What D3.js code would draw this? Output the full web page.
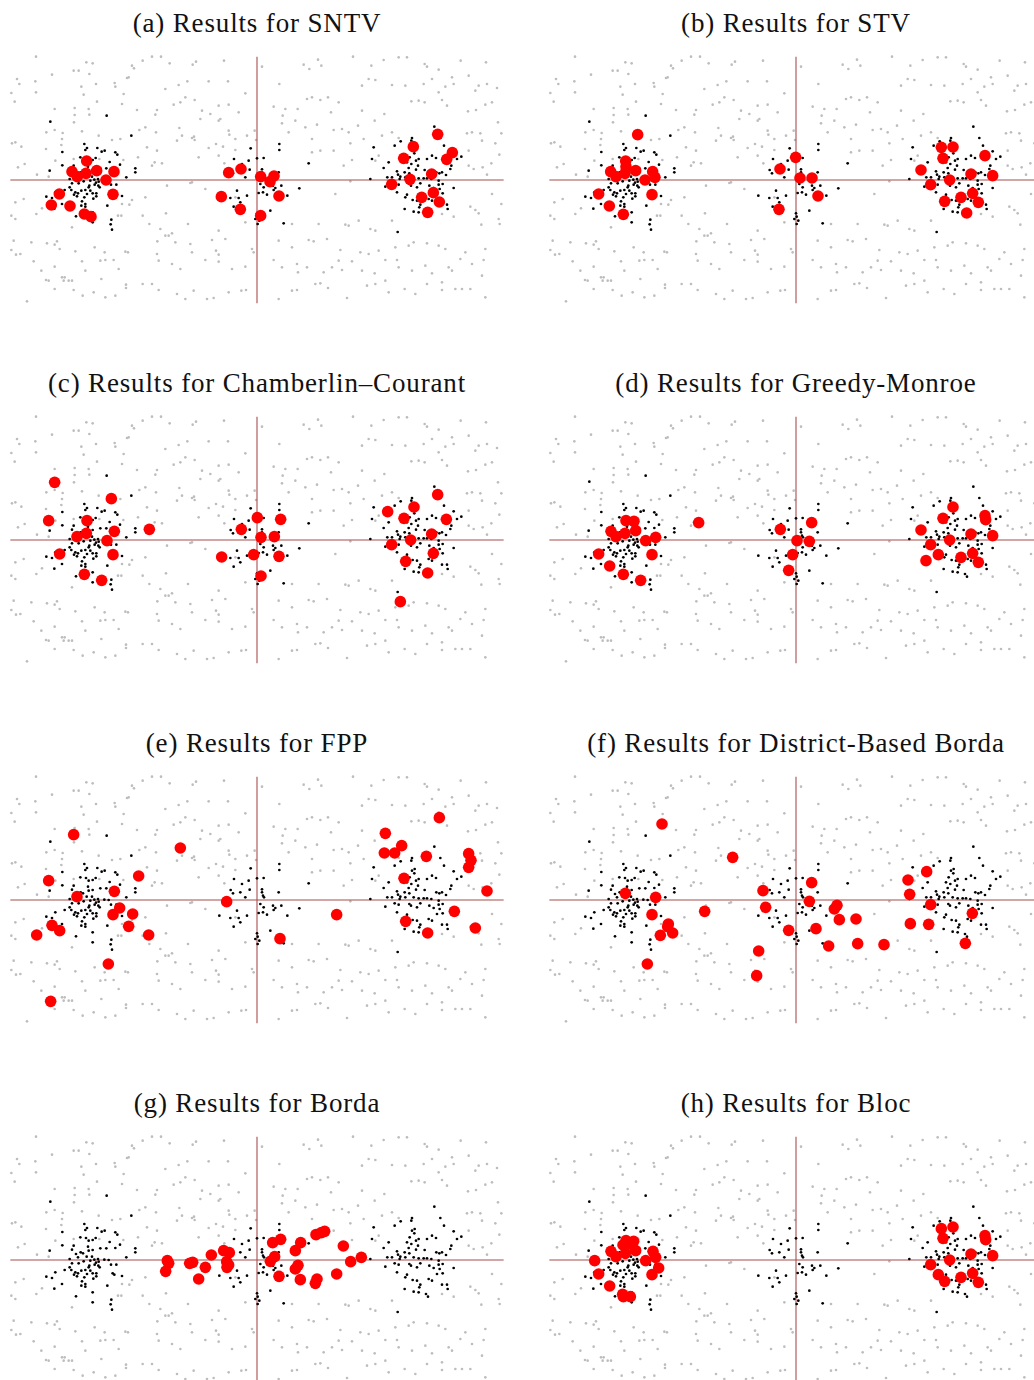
<!DOCTYPE html>
<html><head><meta charset="utf-8">
<script src="https://cdn.jsdelivr.net/npm/d3@7"></script>
<style>body{margin:0;background:#fff}svg{display:block}</style>
</head><body>
<script>
// ---------- DATA ----------
const titles = ["(a) Results for SNTV","(b) Results for STV","(c) Results for Chamberlin–Courant","(d) Results for Greedy-Monroe","(e) Results for FPP","(f) Results for District-Based Borda","(g) Results for Borda","(h) Results for Bloc"];

// candidate positions (light gray)
const candidates = [[-6.63,3.70],[-5.12,3.53],[-4.93,3.50],[-3.75,3.43],[-3.69,3.35],[-3.43,3.58],[-3.15,3.70],[-2.88,3.70],[-2.62,3.50],[-1.93,3.46],[-1.83,3.55],[-0.99,3.58],[0.15,3.40],[1.40,3.46],[1.57,3.33],[1.83,3.61],[1.93,3.43],[2.88,3.70],[3.43,3.43],[3.80,3.60],[4.25,3.68],[4.50,3.68],[5.03,3.48],[5.10,3.40],[5.45,3.31],[6.11,3.58],[6.87,3.53],
[-6.15,3.16],[-5.50,3.28],[-5.35,3.28],[-5.03,3.18],[-3.85,3.08],[-7.20,3.03],[-7.13,2.88],[-6.65,2.96],[-5.27,2.80],[-4.83,2.88],[-4.27,2.91],[-4.25,2.80],[-3.90,3.06],[-2.75,2.73],[-2.35,2.85],[-2.09,2.96],[-1.45,2.96],[-0.87,2.96],[-0.35,2.60],[0.67,2.88],[3.15,2.83],[3.35,3.03],[3.55,3.00],[4.05,2.85],[4.45,2.83],[5.00,2.88],[5.25,3.03],[5.65,2.80],[5.90,2.88],[6.65,2.83],[6.90,2.88],[7.20,2.76],[5.45,2.63],[6.55,2.68],[6.35,3.13],[5.85,3.08],
[-7.37,2.61],[-6.63,2.63],[-5.20,2.56],[-4.00,2.58],[-2.15,2.48],[-2.30,2.33],[-2.50,2.26],[-1.87,2.40],[-7.27,2.35],[-4.80,2.35],[-4.05,2.28],[-3.60,2.10],[-3.00,2.10],[-3.05,1.96],[-6.07,2.13],[-5.47,2.16],[-5.05,2.13],[-5.03,1.96],[-5.47,1.95],[-1.65,2.08],[-1.40,1.98],[-1.15,2.23],[-1.10,1.83],[-0.55,2.03],[-1.70,1.83],[-0.85,2.26],[1.50,2.43],[1.65,2.48],[1.90,2.40],[2.13,2.48],[0.85,2.13],[0.77,1.93],[0.50,2.20],[1.22,2.13],[2.22,2.03],[2.45,2.33],[3.15,2.08],[3.53,1.78],[3.82,1.98],[4.63,2.36],[4.85,2.38],[5.03,2.33],[5.55,2.40],[5.70,2.23],[6.33,2.06],[6.57,2.10],[6.85,2.26],[7.05,2.33],[7.23,1.73],
[-6.32,1.43],[-6.07,1.50],[-5.83,1.41],[-5.25,1.46],[-5.49,1.73],[-4.75,1.33],[-4.35,1.20],[-3.53,1.50],[-3.35,1.58],[-3.03,1.43],[-2.33,1.56],[-1.89,1.30],[-2.25,1.33],[-1.87,1.20],[-1.15,1.78],[-0.85,1.48],[-0.83,1.36],[-0.65,1.23],[-0.30,1.33],[-0.07,1.48],[-0.03,1.20],[0.75,1.70],[0.95,1.43],[1.15,1.78],[1.45,1.58],[1.80,1.66],[1.65,1.23],[1.90,0.88],[2.30,1.50],[2.55,1.53],[2.75,1.43],[3.03,1.63],[2.80,1.10],[3.20,1.23],[3.75,1.33],[4.05,1.43],[4.25,1.26],[6.30,1.40],[6.45,1.43],[6.70,1.40],[6.75,1.18],[7.15,1.10],[7.33,1.40],[6.35,0.88],[-7.35,1.10],[-7.25,1.13],[-7.07,1.00],[-6.33,0.93],[-5.87,1.05],[-5.85,1.23],[-4.10,1.23],[-3.30,0.98],[-3.00,0.88],[-2.40,1.18],[-1.95,1.26],[-1.45,0.96],[-1.23,1.08],[-1.02,1.00],[-0.65,0.90],
[-7.17,0.38],[-6.97,0.48],[-6.60,0.16],[-6.25,0.10],[-6.05,0.58],[-5.50,0.63],[-4.73,0.63],[-4.01,0.60],[-3.57,0.68],[-3.15,0.43],[-3.07,0.53],[-2.85,0.50],[-1.75,0.68],[-1.15,0.73],[-0.98,0.50],[1.65,0.83],[2.30,0.88],[2.60,0.43],[2.85,0.60],[3.55,0.58],[3.65,0.73],[6.35,0.43],[6.50,0.33],[6.77,0.38],[7.03,0.50],[7.27,0.76],[6.90,0.16],
[-1.95,-0.07],[-2.00,-0.09],[-2.70,-0.17],[-7.25,-0.67],[-7.00,-0.57],[-6.62,-1.02],[-6.45,-0.85],[-4.05,-0.72],[-3.83,-0.74],[-3.75,-0.60],[-3.35,-0.52],[-2.73,-1.00],[-1.55,-0.27],[-0.65,-0.52],[2.35,-0.42],[2.80,-0.04],[6.40,-0.80],[6.55,-0.90],[6.65,-1.00],[7.33,-0.72],[7.05,-0.42],
[-7.37,-1.07],[-7.25,-1.17],[-5.55,-1.42],[-4.17,-1.07],[-4.07,-1.07],[-3.43,-1.07],[-3.23,-1.32],[-2.90,-1.47],[-2.75,-1.67],[-2.65,-1.67],[-2.55,-1.60],[-2.45,-1.87],[-2.07,-1.32],[-1.15,-1.52],[-0.95,-1.77],[-0.35,-1.27],[1.05,-1.32],[1.85,-1.32],[2.65,-1.34],[2.75,-1.37],[3.05,-1.22],[3.40,-1.47],[3.55,-1.52],[4.05,-1.22],[5.55,-1.02],[5.90,-1.10],[6.73,-1.34],[7.28,-1.32],[7.25,-1.17],
[-7.30,-1.82],[-6.77,-1.87],[-6.30,-1.90],[-6.00,-1.84],[-6.07,-1.94],[-5.92,-2.07],[-7.37,-2.10],[-7.23,-2.24],[-7.10,-2.22],[-5.45,-2.14],[-4.87,-2.02],[-4.57,-2.17],[-3.95,-2.15],[-3.87,-2.17],[-2.99,-1.84],[-2.00,-1.92],[-1.95,-2.17],[-1.35,-1.80],[-1.23,-2.12],[-1.15,-2.24],[-0.15,-2.07],[-0.10,-2.17],[0.65,-1.82],[1.05,-2.02],[1.55,-1.80],[1.70,-1.84],[2.10,-1.77],[2.50,-2.10],[3.10,-2.17],[3.35,-2.22],[3.65,-2.12],[4.15,-2.02],[4.55,-1.97],[4.70,-1.87],[5.10,-1.90],[5.45,-1.97],[5.65,-2.07],[6.25,-2.17],[6.85,-2.07],
[-6.70,-2.44],[-6.47,-2.72],[-6.25,-3.02],[-6.07,-2.60],[-5.85,-2.92],[-5.77,-2.92],[-5.55,-3.02],[-5.25,-2.44],[-5.15,-2.72],[-4.70,-2.42],[-4.67,-2.97],[-4.55,-2.40],[-4.30,-2.40],[-4.15,-2.67],[-3.00,-2.22],[-2.95,-2.42],[-2.55,-2.52],[-2.30,-2.67],[-1.55,-2.40],[-1.15,-2.45],[-0.75,-2.67],[-0.35,-2.60],[0.50,-2.40],[0.75,-2.62],[1.20,-2.52],[1.23,-2.77],[1.50,-2.62],[2.00,-2.77],[2.25,-2.62],[2.45,-2.42],[2.55,-2.70],[2.85,-2.44],[3.15,-2.72],[3.53,-2.80],[3.85,-2.40],[4.20,-2.40],[4.25,-2.62],[4.65,-2.72],[5.05,-2.57],[5.25,-2.80],[5.75,-2.62],[6.10,-2.37],[6.45,-2.52],[6.80,-2.40],[6.75,-2.87],[5.85,-2.72],
[-6.90,-3.64],[-6.33,-3.00],[-6.07,-3.27],[-5.80,-3.02],[-5.65,-3.02],[-5.50,-3.30],[-5.23,-3.47],[-4.90,-3.37],[-4.55,-3.52],[-4.25,-3.47],[-3.93,-3.14],[-3.93,-3.24],[-3.43,-3.12],[-3.15,-3.12],[-2.95,-3.30],[-2.40,-3.42],[-2.15,-3.57],[-1.90,-3.32],[-1.50,-3.57],[-1.30,-3.54],[-0.85,-3.37],[-0.47,-3.32],[-0.33,-3.30],[0.65,-3.57],[1.05,-3.32],[1.20,-3.30],[1.75,-3.12],[1.90,-3.10],[2.13,-3.24],[2.70,-3.54],[3.30,-3.17],[3.55,-3.12],[3.85,-3.02],[3.95,-3.37],[4.43,-3.27],[4.75,-3.42],[5.10,-3.12],[5.55,-3.30],[5.55,-3.07],[5.95,-3.27],[6.15,-3.27],[6.40,-3.27],[6.85,-3.52]];

// voter positions (black)
const voters = [[-6.20,1.75],[-4.51,1.93],[-3.77,1.33],[-5.18,1.08],[-5.10,0.96],[-5.15,0.90],[-5.84,0.84],[-4.79,0.96],[-4.66,0.85],[-4.57,0.88],[-4.25,0.83],[-4.19,0.76],[-5.30,0.68],[-5.13,0.66],[-5.05,0.58],[-4.93,0.60],[-4.84,0.66],[-4.42,0.54],[-4.11,0.46],[-5.84,0.44],[-5.50,0.43],[-5.55,0.31],[-5.29,0.23],[-5.07,0.40],[-5.05,0.28],[-4.93,0.30],[-4.70,0.35],[-4.52,0.35],[-4.25,0.36],[-3.65,0.35],[-3.65,0.23],[-6.22,0.28],[-5.43,0.18],[-5.22,0.20],[-5.37,0.08],[-5.11,0.10],[-4.95,0.10],[-4.88,0.01],[-4.77,0.03],[-4.58,0.01],[-4.45,0.00],[-3.92,0.08],[-5.62,0.03],[-5.55,-0.10],[-5.35,-0.10],[-5.20,-0.04],[-5.00,-0.02],[-4.83,-0.08],[-4.75,-0.05],[-4.87,-0.14],[-4.76,-0.17],[-4.72,-0.22],[-5.03,-0.17],[-4.38,-0.14],[-4.22,-0.14],[-5.77,-0.30],[-5.62,-0.22],[-5.57,-0.30],[-5.45,-0.37],[-5.49,-0.44],[-5.27,-0.32],[-5.15,-0.30],[-5.05,-0.22],[-5.00,-0.32],[-4.93,-0.40],[-4.82,-0.40],[-4.82,-0.49],[-4.91,-0.56],[-5.10,-0.42],[-5.18,-0.52],[-5.40,-0.49],[-5.37,-0.40],[-6.05,-0.37],[-6.32,-0.50],[-6.15,-0.54],[-4.33,-0.40],[-4.28,-0.44],[-4.05,-0.48],[-5.25,-0.64],[-5.15,-0.72],[-5.27,-0.77],[-5.15,-0.80],[-5.85,-0.72],[-6.08,-0.86],[-4.49,-0.77],[-4.93,-0.97],[-5.43,-1.09],[-4.93,-1.27],[-4.37,-1.19],[-4.39,-1.33],[-4.35,-1.49],
[-0.19,0.95],[0.67,1.08],[0.67,0.90],[-0.69,0.63],[-0.45,0.48],[-0.25,0.58],[0.00,0.65],[0.20,0.66],[-0.79,0.30],[-0.72,0.20],[-0.50,0.23],[-0.22,0.31],[0.15,0.32],[0.15,0.23],[0.18,0.13],[0.21,0.08],[0.65,0.23],[-0.35,0.08],[1.55,0.50],[0.10,-0.12],[0.20,-0.22],[0.48,-0.17],[0.55,-0.24],[0.73,-0.17],[0.50,-0.30],[1.27,-0.25],[-0.60,-0.32],[0.05,-0.39],[0.18,-0.37],[-1.13,-0.47],[-0.80,-0.54],[-0.30,-0.47],[-0.55,-0.54],[0.30,-0.44],[0.91,-0.47],[-0.50,-0.67],[-0.70,-0.80],[0.40,-0.92],[0.00,-1.00],[0.02,-1.10],[-0.05,-1.17],[0.07,-1.22],[0.02,-1.32],[0.80,-1.30],
[5.32,1.60],[4.65,1.26],[4.63,1.18],[5.50,1.26],[4.31,1.16],[4.13,1.03],[4.73,0.93],[4.65,0.88],[5.61,1.03],[3.50,0.98],[4.72,0.80],[4.58,0.68],[4.85,0.63],[5.25,0.73],[5.10,0.63],[5.37,0.66],[5.90,0.86],[6.00,0.63],[6.13,0.70],[3.45,0.63],[3.95,0.53],[4.50,0.53],[4.63,0.48],[4.77,0.58],[4.83,0.43],[4.55,0.36],[4.77,0.31],[5.03,0.30],[5.83,0.43],[5.80,0.33],[3.80,0.36],[4.20,0.26],[4.23,0.16],[4.43,0.23],[4.57,0.20],[4.30,0.10],[4.05,0.08],[3.91,0.08],[4.28,0.03],[4.45,0.08],[4.70,0.08],[4.85,0.05],[5.00,0.05],[5.10,0.05],[5.23,0.03],[5.38,0.23],[5.47,0.20],[5.55,0.23],[5.67,0.15],[5.45,-0.02],[3.40,0.03],[4.13,-0.10],[4.25,-0.14],[4.57,-0.12],[4.62,-0.17],[4.90,-0.10],[5.17,-0.17],[5.45,-0.14],[5.57,-0.12],[3.85,-0.20],[5.30,-0.24],[5.48,-0.27],[5.90,-0.24],[4.20,-0.37],[4.80,-0.22],[5.40,-0.42],[5.57,-0.40],[4.50,-0.44],[4.45,-0.52],[4.67,-0.60],[4.80,-0.62],[5.15,-0.57],[5.25,-0.62],[4.90,-0.74],[4.87,-0.82],[5.55,-0.74],[5.70,-0.74],[5.72,-0.87],[4.43,-0.87],[4.70,-0.95],[4.85,-0.97],[5.07,-1.02],[5.13,-1.10],[4.22,-1.56]];

// elected committees (red), one array per rule
const sntv = [[-5.11,0.57],[-5.55,0.25],[-5.13,0.20],[-4.81,0.28],[-4.29,0.25],[-5.39,0.10],[-4.53,0.00],[-5.93,-0.42],[-4.32,-0.43],[-6.17,-0.75],[-5.61,-0.78],[-5.18,-1.02],[-4.98,-1.10],
[-0.85,0.22],[-0.48,0.33],[0.11,0.10],[0.39,-0.05],[0.51,0.12],[0.66,-0.48],[-1.07,-0.50],[-0.50,-0.88],[0.11,-1.07],
[5.42,1.37],[4.69,1.00],[4.40,0.65],[5.86,0.82],[5.69,0.62],[5.24,0.18],[4.59,0.02],[4.04,-0.13],[4.94,-0.52],[5.29,-0.38],[5.47,-0.66],[5.12,-0.97]];
const stv = [[-4.75,1.36],[-5.11,0.57],[-5.10,0.40],[-5.56,0.25],[-4.81,0.28],[-5.13,0.20],[-4.30,0.25],[-5.40,0.10],[-4.53,0.00],[-4.23,0.08],[-5.92,-0.42],[-4.32,-0.44],[-5.60,-0.78],[-5.18,-1.03],
[-0.01,0.68],[-0.48,0.33],[0.12,0.06],[0.48,0.06],[0.66,-0.48],[-0.51,-0.88],
[4.36,0.98],[4.71,0.99],[4.41,0.65],[5.67,0.73],[3.75,0.30],[5.25,0.18],[5.90,0.13],[4.61,0.00],[4.04,-0.14],[5.30,-0.40],[4.46,-0.64],[4.95,-0.52],[5.47,-0.67],[5.12,-0.99]];
const chamberlinCourant = [[-6.07,1.73],[-4.37,1.24],[-6.25,0.58],[-5.10,0.58],[-3.23,0.32],[-4.28,0.26],[-5.12,0.20],[-5.40,0.10],[-4.50,-0.02],[-5.92,-0.42],[-4.32,-0.44],[-5.18,-1.03],[-4.66,-1.21],
[0.01,0.67],[0.71,0.62],[-0.47,0.32],[0.12,0.08],[0.52,0.10],[-1.06,-0.51],[-0.10,-0.44],[0.66,-0.49],[0.12,-1.08],
[5.42,1.36],[4.71,0.99],[3.92,0.85],[4.41,0.65],[5.68,0.62],[5.24,0.18],[4.61,0.00],[4.04,-0.14],[5.29,-0.40],[4.46,-0.64],[5.12,-0.99],[4.30,-1.85]];
const greedyMonroe = [[-5.10,0.58],[-4.86,0.56],[-5.55,0.26],[-4.81,0.28],[-5.13,0.20],[-5.40,0.10],[-4.21,0.08],[-4.51,-0.02],[-5.92,-0.42],[-4.32,-0.44],[-5.59,-0.78],[-5.18,-1.03],[-4.66,-1.21],[-2.92,0.52],
[0.47,0.52],[-0.47,0.32],[0.03,-0.02],[0.40,-0.04],[-0.10,-0.44],[-0.22,-0.91],
[4.71,0.99],[5.67,0.73],[5.69,0.61],[4.41,0.65],[3.75,0.30],[5.25,0.18],[5.90,0.13],[4.61,0.00],[4.04,-0.14],[4.27,-0.44],[4.95,-0.52],[5.30,-0.40],[3.90,-0.62],[5.47,-0.67]];
const fpp = [[-5.50,1.96],[-2.30,1.56],[-6.25,0.58],[-3.55,0.72],[-4.28,0.26],[-5.40,0.10],[-4.12,-0.24],[-4.32,-0.44],[-3.73,-0.42],[-6.15,-0.76],[-5.92,-0.92],[-3.85,-0.79],[-6.61,-1.05],[-3.25,-1.05],[-4.46,-1.92],[-6.19,-3.04],
[-0.91,-0.05],[0.69,-1.16],[2.39,-0.44],
[5.47,2.47],[3.85,2.00],[4.34,1.63],[3.82,1.41],[4.13,1.41],[5.08,1.31],[6.35,1.39],[6.42,1.19],[6.35,0.98],[4.41,0.65],[6.90,0.27],[5.92,-0.34],[4.46,-0.64],[6.55,-0.84],[5.12,-0.99]];
const districtBorda = [[-4.02,2.28],[-1.90,1.28],[-5.12,0.20],[-4.21,0.08],[-2.74,-0.34],[-4.32,-0.44],[-3.83,-0.72],[-3.85,-0.80],[-3.70,-0.99],[-4.07,-1.06],[-4.46,-1.92],
[-0.99,0.28],[0.47,0.52],[-0.91,-0.22],[0.40,-0.04],[1.23,-0.16],[1.15,-0.27],[1.30,-0.59],[1.80,-0.57],[-0.22,-0.91],[0.60,-0.86],[0.98,-1.38],[1.85,-1.31],[2.64,-1.34],[-1.12,-1.53],[-1.18,-2.27],
[3.92,0.85],[3.36,0.60],[3.41,0.17],[4.04,-0.14],[5.29,-0.40],[3.43,-0.71],[3.98,-0.73],[5.08,-1.30]];
const borda = [[-2.69,-0.02],[-2.65,-0.10],[-2.74,-0.34],[-2.02,-0.10],[-1.93,-0.07],[-1.55,-0.22],[-1.75,-0.57],[-1.37,0.15],[-1.00,0.28],[-0.83,0.22],[-0.91,-0.05],[-0.90,-0.22],[-0.85,-0.15],
[0.47,0.52],[0.71,0.62],[1.31,0.52],[1.15,0.28],[0.53,0.10],[0.40,-0.04],[1.23,-0.16],[1.15,-0.27],[0.66,-0.49],[1.30,-0.59],[1.80,-0.57],[1.75,-0.70],[1.77,0.76],[1.93,0.82],[2.03,0.86],[2.59,0.42],[2.81,-0.05],[3.13,0.08],[2.39,-0.42]];
const bloc = [[-5.10,0.58],[-4.87,0.56],[-5.19,0.45],[-4.97,0.48],[-5.55,0.26],[-4.81,0.28],[-4.29,0.26],[-5.12,0.20],[-5.40,0.10],[-4.21,0.08],[-4.51,-0.02],[-6.04,-0.02],[-4.12,-0.24],[-5.92,-0.42],[-4.32,-0.44],[-5.59,-0.78],[-5.20,-1.03],[-5.18,-1.10],[-4.97,-1.10],
[4.36,0.94],[4.71,0.99],[5.67,0.73],[5.69,0.61],[4.41,0.65],[5.25,0.18],[5.90,0.13],[4.61,0.00],[4.04,-0.14],[4.27,-0.44],[4.95,-0.52],[5.30,-0.40],[4.46,-0.64],[5.47,-0.67]];
const committees = [sntv, stv, chamberlinCourant, greedyMonroe, fpp, districtBorda, borda, bloc];

// ---------- LAYOUT ----------
const W = 1034, H = 1380;
const xDomain = [-7.5, 7.5], yDomain = [-3.75, 3.75];
const xExtent = [-7.4, 7.4], yExtent = [-3.7, 3.7];
const colCenters = [257, 796], rowCenters = [180, 540, 900, 1260];
const halfW = 250, halfH = 125;

const svg = d3.select("body").append("svg").attr("width", W).attr("height", H);

committees.forEach((winners, i) => {
  const cx = colCenters[i % 2], cy = rowCenters[Math.floor(i / 2)];
  const x = d3.scaleLinear().domain(xDomain).range([cx - halfW, cx + halfW]);
  const y = d3.scaleLinear().domain(yDomain).range([cy + halfH, cy - halfH]);
  const g = svg.append("g");

  g.append("text")
    .attr("x", cx).attr("y", y(yExtent[1]) - 25)
    .attr("text-anchor", "middle")
    .attr("font-family", "'Liberation Serif', 'Times New Roman', serif")
    .attr("font-size", 27).attr("letter-spacing", 0.85)
    .attr("fill", "#111")
    .text(titles[i]);

  g.selectAll("circle.cand").data(candidates).join("circle")
    .attr("class", "cand")
    .attr("cx", d => x(d[0])).attr("cy", d => y(d[1]))
    .attr("r", 1.3).attr("fill", "#bdbdbd");

  g.append("line")
    .attr("x1", x(xExtent[0])).attr("x2", x(xExtent[1]))
    .attr("y1", y(0)).attr("y2", y(0))
    .attr("stroke", "#a84e4e").attr("stroke-width", 1.1);
  g.append("line")
    .attr("x1", x(0)).attr("x2", x(0))
    .attr("y1", y(yExtent[0])).attr("y2", y(yExtent[1]))
    .attr("stroke", "#a84e4e").attr("stroke-width", 1.1);

  g.selectAll("circle.voter").data(voters).join("circle")
    .attr("class", "voter")
    .attr("cx", d => x(d[0])).attr("cy", d => y(d[1]))
    .attr("r", 1.35).attr("fill", "#000");

  g.selectAll("circle.win").data(winners).join("circle")
    .attr("class", "win")
    .attr("cx", d => x(d[0])).attr("cy", d => y(d[1]))
    .attr("r", 5.8).attr("fill", "#ff0000");
});
</script>
</body></html>
